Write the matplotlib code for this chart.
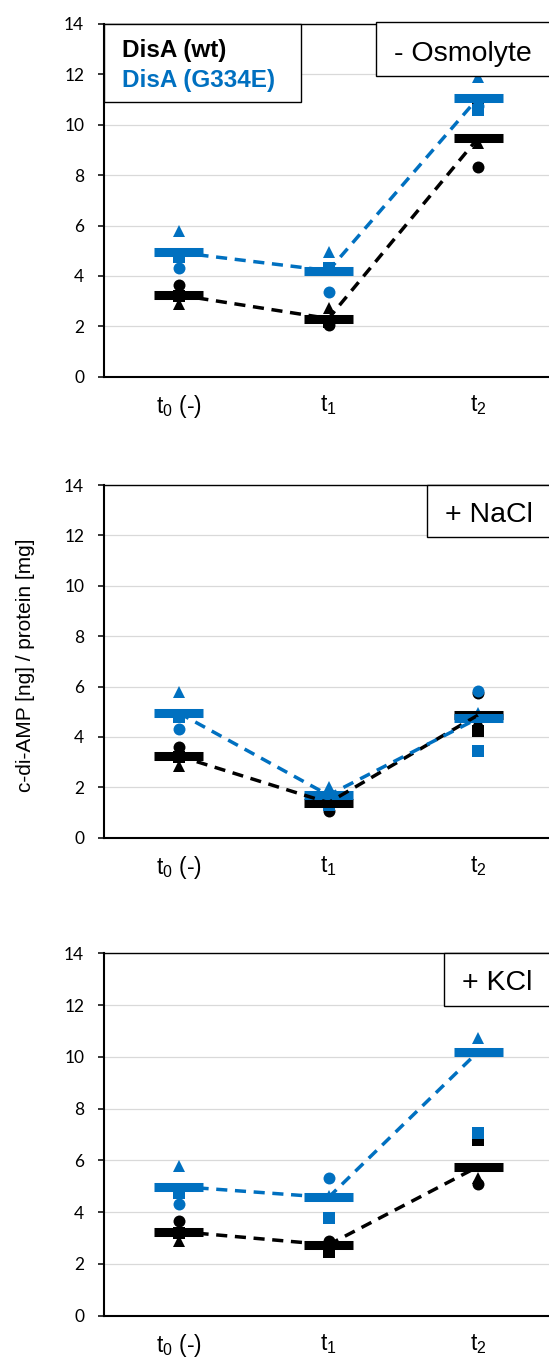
import numpy as np
import matplotlib
matplotlib.use('Agg')
import matplotlib.pyplot as plt
from matplotlib.patches import Rectangle

plt.rcParams['font.family'] = ['Liberation Sans', 'DejaVu Sans']
plt.rcParams['mathtext.fontset'] = 'custom'
plt.rcParams['mathtext.rm'] = 'Liberation Sans'
plt.rcParams['mathtext.default'] = 'regular'

# Данные: три повтора (круг, треугольник, квадрат) и среднее, по панелям
times = ['t$_0$ (-)', 't$_1$', 't$_2$']
conditions = ['- Osmolyte', '+ NaCl', '+ KCl']

wt_circle = [[3.64, 2.05, 8.31], [3.62, 1.05, 5.73], [3.64, 2.89, 5.09]]
wt_triangle = [[2.88, 2.71, 9.26], [2.86, 1.70, 4.63], [2.87, 2.85, 5.31]]
wt_square = [[3.20, 2.17, 10.80], [3.20, 1.37, 4.25], [3.20, 2.48, 6.79]]
wt_mean = [[3.24, 2.31, 9.48], [3.24, 1.39, 4.87], [3.25, 2.74, 5.76]]

mut_circle = [[4.30, 3.35, 10.75], [4.31, 1.75, 5.82], [4.31, 5.31, 12.80]]
mut_triangle = [[5.79, 4.96, 11.88], [5.79, 2.02, 4.95], [5.80, 4.61, 10.71]]
mut_square = [[4.76, 4.32, 10.58], [4.78, 1.30, 3.45], [4.73, 3.79, 7.07]]
mut_mean = [[4.93, 4.21, 11.07], [4.95, 1.69, 4.74], [4.99, 4.57, 10.20]]

BLUE = '#0070C0'
W, H = 549, 1358


def fx(px):
    return px / W


def fy(py):
    return 1 - py / H


fig = plt.figure(figsize=(W / 100, H / 100), dpi=100)

# верх/низ области построения в пикселях
panel_px = [(24, 376.7), (485, 837.7), (953.3, 1315.7)]
# рамки с подписями условий: левый край, верх, низ, базовая линия текста
box_px = [(375.7, 21.7, 75.7, 61), (426.7, 485, 537.3, 522), (444.3, 953.3, 1006, 990)]

x = np.arange(len(times))
for i, (top, bot) in enumerate(panel_px):
    ax = fig.add_axes([fx(104), fy(bot), fx(553) - fx(104), (bot - top) / H])
    ax.set_xlim(-0.5, 2.5)
    ax.set_ylim(0, 14)
    ax.set_yticks(range(0, 15, 2))
    ax.set_xticks(x, times)
    ax.yaxis.grid(True, color='#D9D9D9', lw=0.9)
    ax.set_axisbelow(True)
    for s in ['left', 'bottom']:
        ax.spines[s].set_linewidth(1.5)
    ax.spines['top'].set_linewidth(1.0)
    ax.spines['right'].set_visible(False)
    ax.tick_params(axis='x', length=0, pad=12, labelsize=16.5)
    ax.tick_params(axis='y', direction='out', length=4.3, width=1.1, pad=10,
                   labelsize=12.5, labelfontfamily='Lato', colors='black')

    for circ, tri, sq, mean, col in [
        (wt_circle[i], wt_triangle[i], wt_square[i], wt_mean[i], 'black'),
        (mut_circle[i], mut_triangle[i], mut_square[i], mut_mean[i], BLUE),
    ]:
        ax.plot(x, circ, 'o', color=col, ms=8.6, mew=0, zorder=3)
        ax.plot(x, tri, '^', color=col, ms=8.6, mew=0, zorder=3)
        ax.plot(x, sq, 's', color=col, ms=9, mew=0, zorder=3)
        ax.hlines(mean, x - 0.163, x + 0.163, color=col, lw=6.5,
                  capstyle='butt', zorder=4)
        ax.plot(x, mean, color=col, lw=2.5, ls=(0, (3.2, 2.2)), zorder=5)

    left, btop, bbot, base = box_px[i]
    fig.add_artist(Rectangle((fx(left), fy(bbot)), 1, (bbot - btop) / H,
                             transform=fig.transFigure, facecolor='white',
                             edgecolor='black', lw=1.0, zorder=10))
    fig.text(fx(left + 18), fy(base), conditions[i], fontsize=20.5,
             va='baseline', zorder=11)

# легенда в первой панели
fig.add_artist(Rectangle((fx(104), fy(102)), fx(300.7) - fx(104), 78 / H,
                         transform=fig.transFigure, facecolor='white',
                         edgecolor='black', lw=1.0, zorder=10))
fig.text(fx(122), fy(57.3), 'DisA (wt)', fontsize=17.5, fontweight='bold',
         color='black', va='baseline', zorder=11)
fig.text(fx(122), fy(87.3), 'DisA (G334E)', fontsize=17.5, fontweight='bold',
         color=BLUE, va='baseline', zorder=11)

fig.text(fx(26), fy(665), 'c-di-AMP [ng] / protein [mg]', rotation=90,
         ha='center', va='center', fontsize=15)

fig.savefig('out.png', dpi=100)
